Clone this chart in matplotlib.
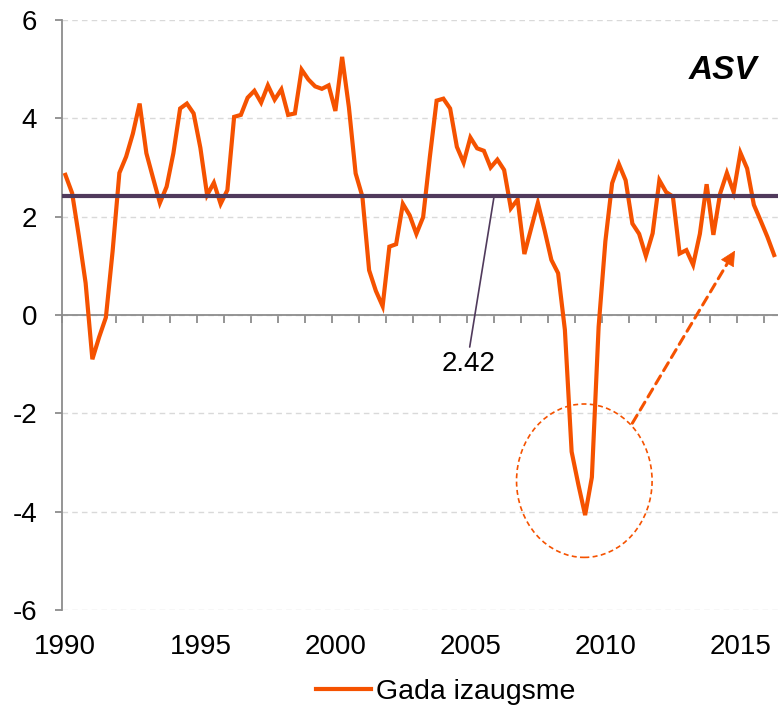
import numpy as np
import matplotlib
matplotlib.use("Agg")
import matplotlib.pyplot as plt
from matplotlib.patches import Ellipse

plt.rcParams['font.family'] = ['Liberation Sans', 'DejaVu Sans']
plt.rcParams['axes.unicode_minus'] = False

# quarterly annual growth, 1990Q1 .. 2016Q2
growth = [2.85, 2.48, 1.6, 0.65, -0.9, -0.45, -0.05, 1.3,
          2.89, 3.22, 3.69, 4.3, 3.29, 2.78, 2.28, 2.61,
          3.29, 4.2, 4.3, 4.1, 3.4, 2.44, 2.69, 2.26,
          2.54, 4.03, 4.07, 4.42, 4.56, 4.32, 4.67, 4.38,
          4.59, 4.07, 4.1, 4.99, 4.79, 4.65, 4.6, 4.67,
          4.15, 5.25, 4.23, 2.88, 2.41, 0.91, 0.49, 0.18,
          1.39, 1.44, 2.26, 2.03, 1.65, 1.99, 3.22, 4.36,
          4.4, 4.2, 3.42, 3.1, 3.61, 3.39, 3.34, 3.0,
          3.16, 2.95, 2.17, 2.35, 1.24, 1.76, 2.28, 1.72,
          1.12, 0.85, -0.3, -2.78, -3.45, -4.07, -3.3, -0.24,
          1.5, 2.68, 3.07, 2.74, 1.86, 1.65, 1.2, 1.66,
          2.74, 2.5, 2.41, 1.25, 1.32, 1.02, 1.65, 2.66,
          1.63, 2.47, 2.89, 2.5, 3.3, 2.98, 2.24, 1.92,
          1.59, 1.22]
mean_growth = 2.42
start_year = 1990
label_years = [1990, 1995, 2000, 2005, 2010, 2015]
y_ticks = [-6, -4, -2, 0, 2, 4, 6]
series_name = 'Gada izaugsme'
region_name = 'ASV'

orange = '#F55200'
purple = '#503A5C'
axis_grey = '#8C8C8C'

x = start_year + np.arange(len(growth)) / 4.0
x_lo, x_hi = x[0] - 0.125, x[-1] + 0.125

fig = plt.figure(figsize=(7.78, 7.11), dpi=100)
ax = fig.add_axes([62 / 778, 101 / 711, 715.5 / 778, 590 / 711])

ax.yaxis.grid(True, linestyle=(0, (4, 3)), color='#D9D9D9', lw=1.0)
ax.set_axisbelow(True)

ax.plot(x, growth, color=orange, lw=3, label=series_name, zorder=3,
        solid_joinstyle='miter')
ax.axhline(mean_growth, color=purple, lw=3, zorder=4)

for s in ['top', 'right']:
    ax.spines[s].set_visible(False)
ax.spines['left'].set_color(axis_grey)
ax.spines['left'].set_linewidth(1.3)
ax.spines['bottom'].set_position(('data', 0))
ax.spines['bottom'].set_color(axis_grey)
ax.spines['bottom'].set_linewidth(1.3)

ax.set_yticks(y_ticks)
ax.set_yticklabels([str(v) for v in y_ticks])
ax.tick_params(axis='y', length=5, width=1.3, color=axis_grey, pad=13,
               labelsize=20)

# year-boundary ticks on the zero line
bounds = np.arange(x_lo, x_hi + 0.01, 1.0)
ax.set_xticks(bounds)
ax.tick_params(axis='x', length=5.5, width=1.3, color=axis_grey,
               labelbottom=False)
ax.set_xlim(x_lo, x_hi)
ax.set_ylim(-6, 6)

sec = ax.secondary_xaxis('bottom')
sec.set_xticks(label_years)
sec.set_xticklabels([str(y) for y in label_years])
sec.tick_params(length=0, pad=17, labelsize=20)
sec.spines['bottom'].set_visible(False)

# mean annotation
ax.annotate(f'{mean_growth:.2f}', xy=(2005.88, mean_growth),
            xytext=(2004.95, -1.0), ha='center', va='center', fontsize=20,
            arrowprops=dict(arrowstyle='-', color=purple, lw=1.2,
                            relpos=(0.5, 1.0), shrinkA=1, shrinkB=0))

# crisis highlight
ax.add_patch(Ellipse((2009.22, -3.37), 5.02, 3.12, fill=False,
                     edgecolor=orange, lw=1.2, linestyle=(0, (3, 2)),
                     zorder=5))
arr_start = np.array([2011.0, -2.2])
arr_tip = np.array([2014.8, 1.31])
ax.annotate('', xy=arr_tip, xytext=arr_start,
            arrowprops=dict(arrowstyle='-', color=orange, lw=2.2,
                            linestyle=(0, (3, 2)), shrinkA=0, shrinkB=4))
ax.annotate('', xy=arr_tip, xytext=arr_tip - 0.05 * (arr_tip - arr_start),
            arrowprops=dict(arrowstyle='-|>,head_length=1.0,head_width=0.5',
                            color=orange, lw=0.5, shrinkA=0, shrinkB=0))

ax.text(0.924, 0.915, region_name, transform=ax.transAxes, ha='center',
        va='center', fontsize=24, fontweight='bold', fontstyle='italic')

fig.legend(loc='center', bbox_to_anchor=(445.5 / 778, 1 - 692 / 711),
           frameon=False, fontsize=20.5, handlelength=1.94,
           handletextpad=0.17)

fig.savefig('out.png', dpi=100)
